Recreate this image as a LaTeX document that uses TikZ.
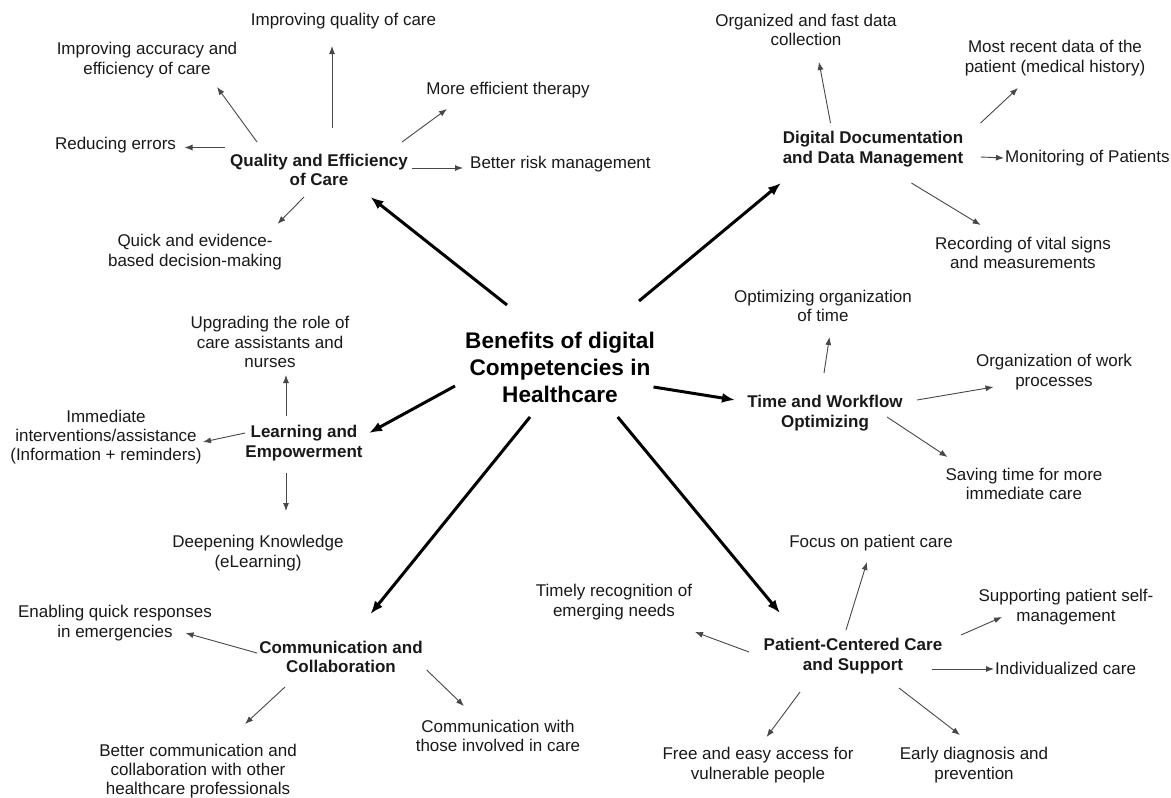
\documentclass[tikz,border=0pt]{standalone}
\usepackage{fontspec}
\setmainfont{Liberation Sans}
\usetikzlibrary{arrows.meta,calc}
\begin{document}
\begin{tikzpicture}[x=1pt,y=-1pt,
  leaf/.style={font=\fontsize{17}{19.4}\selectfont, align=center, inner sep=0pt, text=black!90},
  hub/.style={leaf, font=\fontsize{17}{19.4}\selectfont\bfseries},
  core/.style={align=center, inner sep=0pt, font=\fontsize{22.6}{27}\selectfont\bfseries},
  link/.style={draw=black!72, line width=0.9pt, -{Latex[length=8pt,width=6pt]}},
  spoke/.style={draw=black, line width=3pt, -{Latex[length=13pt,width=10pt]}}]
\useasboundingbox (0,0) rectangle (1171,798);

% centre and the six benefit areas
\node[core] (T) at (560,367) {Benefits of digital\\Competencies in\\Healthcare};
\node[hub] (Q)  at (319,170) {Quality and Efficiency\\of Care};
\node[hub] (D)  at (873,149) {Digital Documentation\\and Data Management};
\node[hub] (L)  at (304,443) {Learning and\\Empowerment};
\node[hub] (W)  at (825,413) {Time and Workflow\\Optimizing};
\node[hub] (C)  at (341,657) {Communication and\\Collaboration};
\node[hub] (P)  at (853,656) {Patient-Centered Care\\and Support};

% quality and efficiency
\node[leaf] (q1) at (343.5,21) {Improving quality of care};
\node[leaf] (q2) at (147,60) {Improving accuracy and\\efficiency of care};
\node[leaf] (q3) at (115.5,145) {Reducing errors};
\node[leaf] (q4) at (508,90) {More efficient therapy};
\node[leaf, anchor=west] (q5) at (470,164) {Better risk management};
\node[leaf] (q6) at (195,252) {Quick and evidence-\\based decision-making};

% documentation
\node[leaf] (d1) at (806,30) {Organized and fast data\\collection};
\node[leaf] (d2) at (1055,58) {Most recent data of the\\patient (medical history)};
\node[leaf, anchor=west] (d3) at (1005,158) {Monitoring of Patients};
\node[leaf] (d4) at (1023,253) {Recording of vital signs\\and measurements};

% learning
\node[leaf] (l1) at (270,342) {Upgrading the role of\\care assistants and\\nurses};
\node[leaf] (l2) at (106,437) {Immediate\\interventions/assistance\\(Information + reminders)};
\node[leaf] (l3) at (258,553) {Deepening Knowledge\\(eLearning)};

% time and workflow
\node[leaf] (t1) at (823,306) {Optimizing organization\\of time};
\node[leaf] (t2) at (1054,372) {Organization of work\\processes};
\node[leaf] (t3) at (1024,484) {Saving time for more\\immediate care};

% communication
\node[leaf] (c1) at (115,623) {Enabling quick responses\\in emergencies};
\node[leaf] (c2) at (198,771) {Better communication and\\collaboration with other\\healthcare professionals};
\node[leaf] (c3) at (498,736) {Communication with\\those involved in care};

% patient-centred care
\node[leaf] (p1) at (871,543) {Focus on patient care};
\node[leaf] (p2) at (614,602) {Timely recognition of\\emerging needs};
\node[leaf] (p3) at (1066,607) {Supporting patient self-\\management};
\node[leaf, anchor=west] (p4) at (995,668) {Individualized care};
\node[leaf] (p5) at (758,765) {Free and easy access for\\vulnerable people};
\node[leaf] (p6) at (974,765) {Early diagnosis and\\prevention};

% thick spokes from the centre
\draw[spoke] ($(T)+(-53,-62)$) -- ($(Q)+(51.5,27)$);
\draw[spoke] ($(T)+(79,-66)$) -- ($(D)+(-92,34)$);
\draw[spoke] ($(T)+(-105,19)$) -- ($(L)+(65,-10)$);
\draw[spoke] ($(T)+(93.5,20)$) -- ($(W)+(-90,-13)$);
\draw[spoke] ($(T)+(-30,50)$) -- ($(C)+(29.5,-43)$);
\draw[spoke] ($(T)+(57.7,50)$) -- ($(P)+(-73,-43)$);

% quality and efficiency links
\draw[link] ($(Q)+(13,-42)$) -- ($(q1)+(-11.5,25)$);
\draw[link] ($(Q)+(-62,-28)$) -- ($(q2)+(70,27)$);
\draw[link] ($(Q)+(-94,-22.5)$) -- ($(q3)+(69,2.5)$);
\draw[link] ($(Q)+(83,-28)$) -- ($(q4)+(-61,19)$);
\draw[link] ($(Q)+(93,-2)$) -- ($(q5.west)+(-7,4)$);
\draw[link] ($(Q)+(-15,27)$) -- ($(q6)+(82.5,-28)$);

% documentation links
\draw[link] ($(D)+(-42.5,-26)$) -- ($(d1)+(13,32)$);
\draw[link] ($(D)+(107.6,-26)$) -- ($(d2)+(-37,30)$);
\draw[link] ($(D)+(107.6,8)$) -- ($(d3.west)+(-1,0)$);
\draw[link] ($(D)+(38.4,34)$) -- ($(d4)+(-42.4,-28)$);

% learning links
\draw[link] ($(L)+(-18,-27)$) -- ($(l1)+(16,33)$);
\draw[link] ($(L)+(-59,-10)$) -- ($(l2)+(97,5)$);
\draw[link] ($(L)+(-18,30)$) -- ($(l3)+(28,-42)$);

% workflow links
\draw[link] ($(W)+(-1,-40)$) -- ($(t1)+(6.5,31)$);
\draw[link] ($(W)+(92,-13)$) -- ($(t2)+(-60.5,15)$);
\draw[link] ($(W)+(62,4)$) -- ($(t3)+(-76.5,-27)$);

% communication links
\draw[link] ($(C)+(-84,-4)$) -- ($(c1)+(70.6,10)$);
\draw[link] ($(C)+(-56,30)$) -- ($(c2)+(47,-47)$);
\draw[link] ($(C)+(85.7,13)$) -- ($(c3)+(-34,-30)$);

% patient-centred care links
\draw[link] ($(P)+(-7,-26)$) -- ($(p1)+(-4,19)$);
\draw[link] ($(P)+(-104,-4)$) -- ($(p2)+(81,30)$);
\draw[link] ($(P)+(108,-21)$) -- ($(p3)+(-64,10)$);
\draw[link] ($(P)+(79,13)$) -- ($(p4.west)+(-1,1)$);
\draw[link] ($(P)+(-53,36)$) -- ($(p5)+(8.6,-28)$);
\draw[link] ($(P)+(46,32)$) -- ($(p6)+(-14,-30)$);
\end{tikzpicture}
\end{document}
